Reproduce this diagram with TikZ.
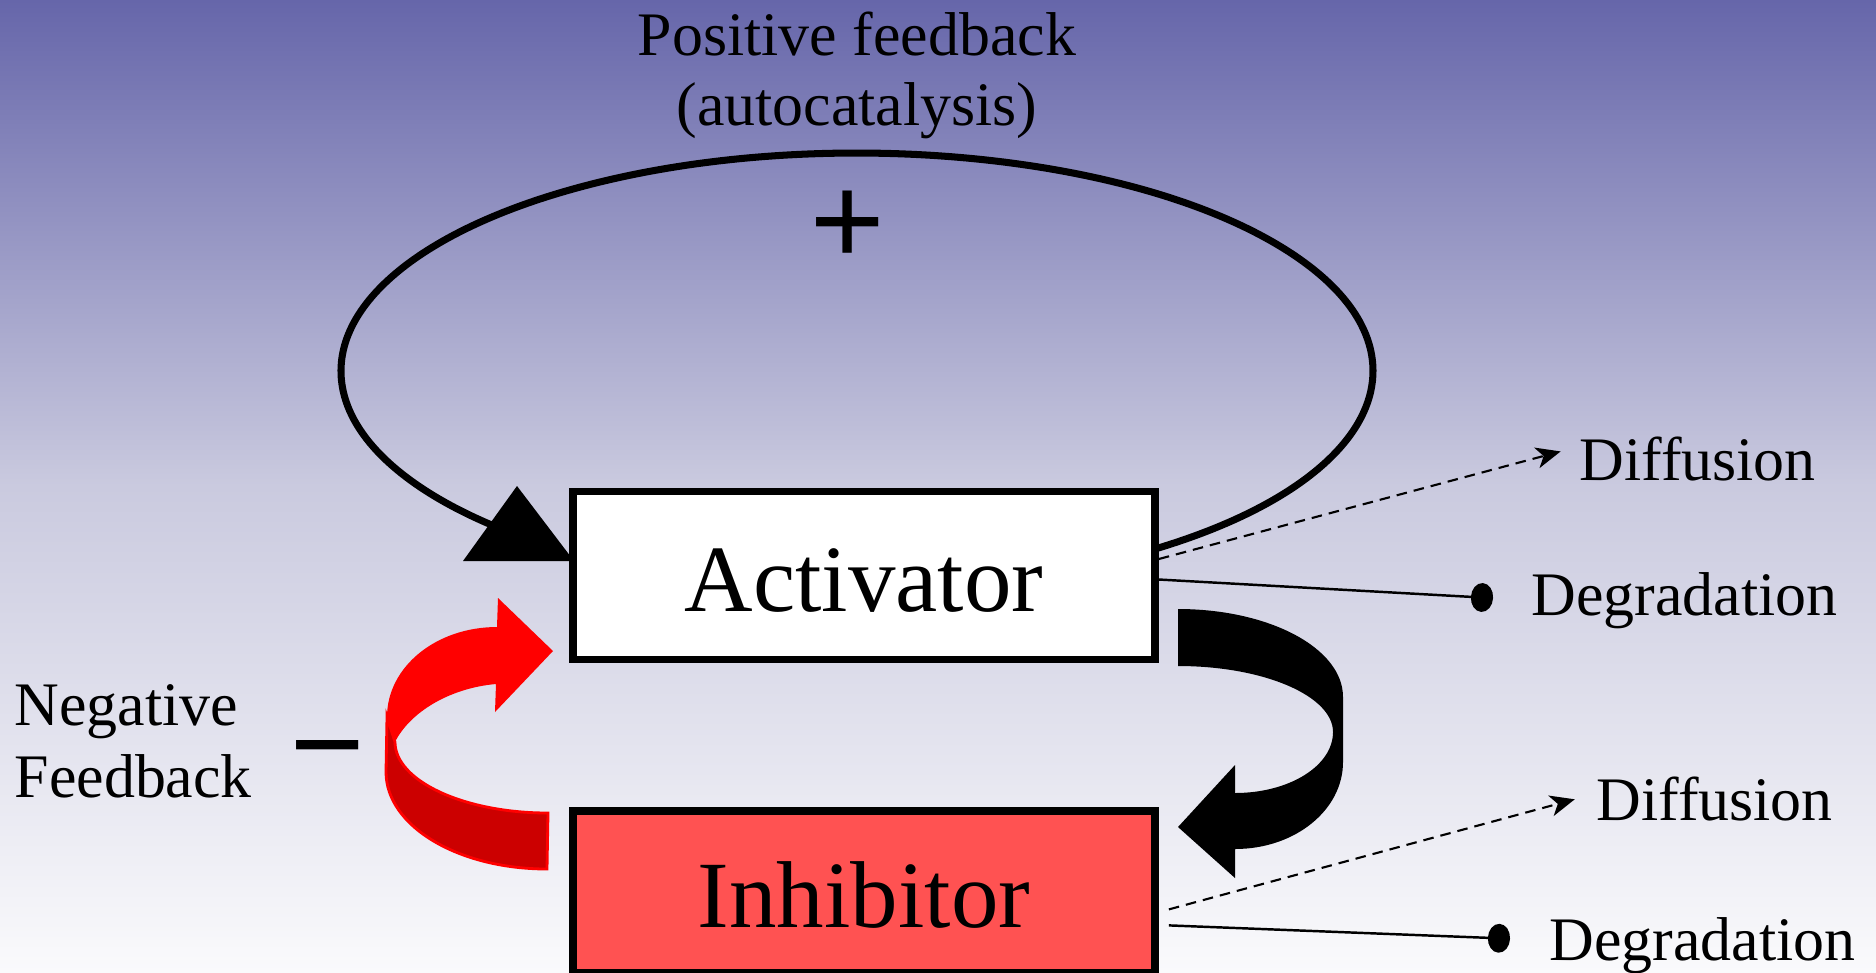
\documentclass[tikz,border=0pt]{standalone}
\usepackage{fontspec}
\setmainfont{Liberation Serif}
\usetikzlibrary{positioning,arrows.meta}

\definecolor{bgtop}{RGB}{102,102,170}
\definecolor{bgmid}{RGB}{202,202,223}
\definecolor{bgbot}{RGB}{250,250,252}
\definecolor{inhred}{RGB}{255,82,82}
\definecolor{backred}{RGB}{204,0,0}

\tikzset{
  species/.style={draw, line width=2.1pt, minimum width=5.82cm, inner sep=0pt, text height=0.72cm, font=\fontsize{27}{30}\selectfont},
  lbl/.style={inner sep=0pt, font=\fontsize{17.6}{20}\selectfont},
  signlbl/.style={inner sep=0pt, anchor=base, font=\fontsize{38}{40}\selectfont\bfseries},
  autoloop/.style={line width=2pt},
  diffuse/.style={line width=0.6pt, dash pattern=on 3pt off 2pt, -{Stealth[length=7pt,width=6pt,inset=2pt]}},
  degrade/.style={line width=0.7pt, -{Circle[length=6.3pt,width=8.2pt]}}
}

\begin{document}
\begin{tikzpicture}[x=0.01cm,y=-0.01cm]
  \useasboundingbox (0,0) rectangle (1876,972);
  \path[top color=bgtop, bottom color=bgbot, middle color=bgmid] (0,0) rectangle (1876,972);

  \draw[autoloop] (1156.6,548.5) arc[start angle=54.5, end angle=-225.2, x radius=516, y radius=218];
  \fill (463,561) -- (517,486) -- (574,561) -- cycle;

  \fill (1178,609) .. controls (1269,609) and (1343,648) .. (1343,697) -- (1343,762)
    .. controls (1343,810) and (1295,849) .. (1235,849) -- (1235,878) -- (1178,827)
    -- (1235,765) -- (1235,793) .. controls (1289,793) and (1333,766) .. (1333,732)
    .. controls (1333,696) and (1264,666) .. (1178,666) -- cycle;

  \fill[backred, draw=red, line width=0.8pt] (387,717) -- (386,772)
    .. controls (386,826) and (458,869) .. (547,869) -- (548,813)
    .. controls (464,813) and (395,781) .. (395,742) -- cycle;
  \fill[red] (387,717) .. controls (387,667) and (436,627) .. (497,627) -- (498,598)
    -- (553,651) -- (495,712) -- (496,684) .. controls (450,688) and (410,712) .. (395,742) -- cycle;

  \node[species, fill=white, minimum height=1.676cm] (act) at (864,575.5) {Activator};
  \node[species, fill=inhred, minimum height=1.62cm, below=1.44cm of act] (inh) {Inhibitor};

  \node[lbl, anchor=north, align=center, font=\fontsize{17.6}{19.9}\selectfont] (pos) at (857,11) {Positive feedback\\(autocatalysis)};
  \node[signlbl] (plus) at (848,266) {+};
  \node[lbl, anchor=north west, align=left, font=\fontsize{17.6}{20.5}\selectfont] (neg) at (14,684) {Negative\\Feedback};
  \node[signlbl] (minus) at (327.5,789) {−};

  \node[lbl, anchor=base west] (dif1) at (1579,480) {Diffusion};
  \node[lbl, anchor=base west] (deg1) at (1531,615) {Degradation};
  \node[lbl, anchor=base west] (dif2) at (1596,820) {Diffusion};
  \node[lbl, anchor=base west] (deg2) at (1549,960) {Degradation};

  \draw[diffuse, shorten >=0.19cm] ([yshift=0.165cm]act.east) -- ([yshift=0.12cm]dif1.west);
  \draw[degrade, shorten >=0.38cm] ([yshift=-0.04cm]act.east) -- (deg1.west);
  \draw[diffuse, shorten >=0.22cm] ([shift={(0.1cm,-0.175cm)}]inh.east) -- ([yshift=0.05cm]dif2.west);
  \draw[degrade, shorten >=0.39cm] ([shift={(0.1cm,-0.335cm)}]inh.east) -- ([yshift=0.05cm]deg2.west);
\end{tikzpicture}
\end{document}
